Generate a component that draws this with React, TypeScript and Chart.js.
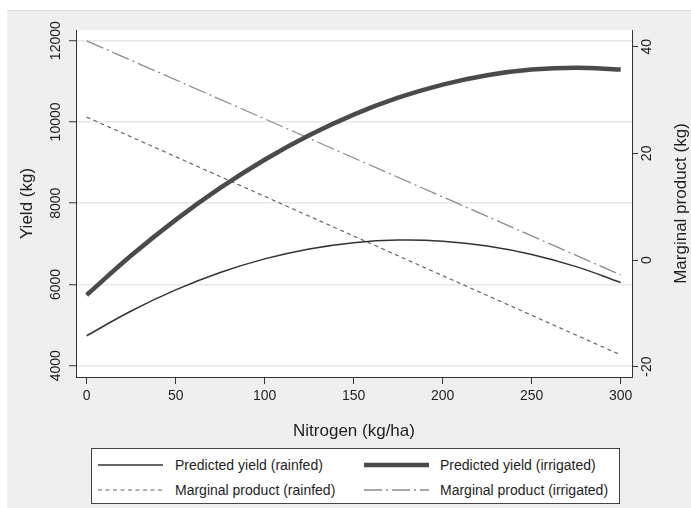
import React, { useEffect, useRef } from "react";
import { Chart, registerables } from "chart.js";

Chart.register(...registerables);

const FONT = "'Liberation Sans', Arial, Helvetica, sans-serif";

// Nitrogen rate (kg/ha) at which the predicted yields are read
const nitrogen = [0, 25, 50, 75, 100, 125, 150, 175, 200, 225, 250, 275, 300];
// Predicted yield (kg), left axis
const yieldRainfed = [4738, 5347, 5865, 6293, 6629, 6874, 7029, 7093, 7066, 6948, 6739, 6439, 6048];
const yieldIrrigated = [5740, 6711, 7590, 8376, 9070, 9671, 10180, 10596, 10920, 11151, 11290, 11336, 11290];
// Marginal product (kg), right axis — straight lines
const mpNitrogen = [0, 300];
const mpRainfed = [26.8, -17.8];
const mpIrrigated = [41.1, -2.8];

// Tick labels
const xTicks = [0, 50, 100, 150, 200, 250, 300];
const yieldTicks = [4000, 6000, 8000, 10000, 12000];
const mpTicks = [-20, 0, 20, 40];

const seriesNames = [
  "Predicted yield (rainfed)",
  "Predicted yield (irrigated)",
  "Marginal product (rainfed)",
  "Marginal product (irrigated)",
];

const W = 684;
const H = 498;

const TEXT = "#1e1e1e";
const AXIS = "#333333";
const TICK_SIZE = 14;
const TITLE_SIZE = 17;

const bgPlugin = {
  id: "bgPlugin",
  beforeDraw(chart: any) {
    const { ctx, chartArea } = chart;
    ctx.save();
    ctx.fillStyle = "#dedede";
    ctx.fillRect(0, 0, chart.width, 1);
    ctx.fillStyle = "#ffffff";
    ctx.fillRect(chartArea.left, chartArea.top, chartArea.right - chartArea.left, chartArea.bottom - chartArea.top);
    ctx.restore();
  },
  afterDraw(chart: any) {
    const { ctx, chartArea } = chart;
    ctx.save();
    ctx.translate(674.5, (chartArea.top + chartArea.bottom) / 2);
    ctx.rotate(-Math.PI / 2);
    ctx.fillStyle = TEXT;
    ctx.font = `${TITLE_SIZE}px ${FONT}`;
    ctx.textAlign = "center";
    ctx.textBaseline = "middle";
    ctx.fillText("Marginal product (kg)", 0, 0);
    ctx.restore();
  },
};

function LegendSample({ kind }: { kind: number }) {
  const common = { x1: 0, x2: 65, y1: 5, y2: 5 };
  if (kind === 0) return <line {...common} stroke="#333" strokeWidth={1.5} />;
  if (kind === 1) return <line {...common} stroke="#4a4a4a" strokeWidth={4.5} />;
  if (kind === 2) return <line {...common} stroke="#666" strokeWidth={1.2} strokeDasharray="4 3.5" />;
  return <line {...common} stroke="#8c8c8c" strokeWidth={1.3} strokeDasharray="18 4 2 4" />;
}

const plain = (v: any) => String(v);

export default function App() {
  const ref = useRef<HTMLCanvasElement | null>(null);

  useEffect(() => {
    if (!ref.current) return;
    const chart = new Chart(ref.current, {
      type: "line",
      data: {
        datasets: [
          {
            label: seriesNames[0],
            data: nitrogen.map((x, i) => ({ x, y: yieldRainfed[i] })),
            yAxisID: "y",
            borderColor: "#333333",
            borderWidth: 1.5,
            pointRadius: 0,
            tension: 0.4,
            fill: false,
          },
          {
            label: seriesNames[1],
            data: nitrogen.map((x, i) => ({ x, y: yieldIrrigated[i] })),
            yAxisID: "y",
            borderColor: "#4a4a4a",
            borderWidth: 4.5,
            pointRadius: 0,
            tension: 0.4,
            fill: false,
          },
          {
            label: seriesNames[2],
            data: mpNitrogen.map((x, i) => ({ x, y: mpRainfed[i] })),
            yAxisID: "y2",
            borderColor: "#666666",
            borderWidth: 1.2,
            borderDash: [4, 3.5],
            pointRadius: 0,
            fill: false,
          },
          {
            label: seriesNames[3],
            data: mpNitrogen.map((x, i) => ({ x, y: mpIrrigated[i] })),
            yAxisID: "y2",
            borderColor: "#8c8c8c",
            borderWidth: 1.3,
            borderDash: [18, 4, 2, 4],
            pointRadius: 0,
            fill: false,
          },
        ],
      },
      options: {
        responsive: false,
        animation: false,
        devicePixelRatio: 1,
        layout: { padding: { top: 20, bottom: 66.8, left: 0, right: 0 } },
        plugins: { legend: { display: false }, tooltip: { enabled: false } },
        scales: {
          x: {
            type: "linear",
            position: "bottom",
            min: -6,
            max: 306.35,
            afterBuildTicks: (s: any) => {
              s.ticks = xTicks.map((v) => ({ value: v }));
            },
            afterFit: (s: any) => {
              s.height = 64.2;
            },
            grid: { drawOnChartArea: false, drawTicks: true, tickLength: 7, tickColor: AXIS, tickWidth: 1 },
            border: { display: true, color: AXIS, width: 1 },
            ticks: { font: { family: FONT, size: TICK_SIZE }, color: TEXT, padding: 4, maxRotation: 0, minRotation: 0, autoSkip: false, callback: plain },
            title: { display: true, text: "Nitrogen (kg/ha)", font: { family: FONT, size: TITLE_SIZE }, color: TEXT, padding: { top: 0, bottom: 0 } },
          },
          y: {
            type: "linear",
            position: "left",
            min: 3722,
            max: 12263,
            afterBuildTicks: (s: any) => {
              s.ticks = yieldTicks.map((v) => ({ value: v }));
            },
            afterFit: (s: any) => {
              s.width = 69;
            },
            grid: { color: "#e8e8e8", lineWidth: 1.5, drawTicks: true, tickLength: 7, tickColor: AXIS, tickWidth: 1 },
            border: { display: true, color: AXIS, width: 1 },
            ticks: {
              font: { family: FONT, size: TICK_SIZE },
              color: TEXT,
              minRotation: 90,
              maxRotation: 90,
              crossAlign: "center",
              padding: -6.5,
              autoSkip: false,
              callback: plain,
            },
            title: { display: true, text: "Yield (kg)", font: { family: FONT, size: TITLE_SIZE }, color: TEXT, padding: { top: 10.3, bottom: 0 } },
          },
          y2: {
            type: "linear",
            position: "right",
            min: -21.94,
            max: 43.13,
            afterBuildTicks: (s: any) => {
              s.ticks = mpTicks.map((v) => ({ value: v }));
            },
            afterFit: (s: any) => {
              s.width = 59;
            },
            grid: { drawOnChartArea: false, drawTicks: true, tickLength: 6, tickColor: AXIS, tickWidth: 1 },
            border: { display: true, color: AXIS, width: 1 },
            ticks: {
              font: { family: FONT, size: TICK_SIZE },
              color: TEXT,
              minRotation: 90,
              maxRotation: 90,
              crossAlign: "center",
              padding: -1.4,
              autoSkip: false,
              callback: plain,
            },
            title: { display: false },
          },
        },
      } as any,
      plugins: [bgPlugin],
    });
    return () => chart.destroy();
  }, []);

  const items = [
    { kind: 0, lineX: 7, textX: 84, y: 17 },
    { kind: 1, lineX: 273, textX: 349, y: 17 },
    { kind: 2, lineX: 7, textX: 84, y: 42 },
    { kind: 3, lineX: 273, textX: 349, y: 42 },
  ];

  return (
    <div style={{ position: "absolute", left: 7, top: 10, width: W, height: H, background: "#efefef", fontFamily: FONT }}>
      <canvas ref={ref} width={W} height={H} style={{ display: "block", width: W, height: H }} />
      <div
        style={{
          position: "absolute",
          left: 84,
          top: 438,
          width: 529,
          height: 56,
          boxSizing: "border-box",
          border: "1px solid #444",
          background: "#ffffff",
        }}
      >
        {items.map((it) => (
          <React.Fragment key={it.kind}>
            <svg
              width={66}
              height={10}
              style={{ position: "absolute", left: it.lineX - 1, top: it.y - 6 }}
            >
              <LegendSample kind={it.kind} />
            </svg>
            <div
              style={{
                position: "absolute",
                left: it.textX - 1,
                top: it.y - 10,
                height: 18,
                lineHeight: "18px",
                fontSize: 14,
                color: TEXT,
                whiteSpace: "nowrap",
              }}
            >
              {seriesNames[it.kind]}
            </div>
          </React.Fragment>
        ))}
      </div>
    </div>
  );
}
